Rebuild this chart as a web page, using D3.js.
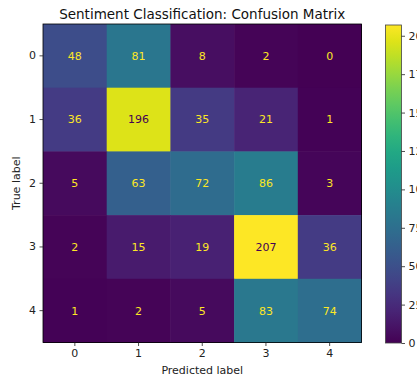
<!DOCTYPE html>
<html>
<head>
<meta charset="utf-8">
<script src="https://cdn.jsdelivr.net/npm/d3@7"></script>
<style>
  body { margin: 0; background: #fff; overflow: hidden; }
  text { font-family: "DejaVu Sans", sans-serif; }
</style>
</head>
<body>
<svg width="417" height="379"></svg>
<script>
var svg = d3.select("svg");

// data
var classes = ["0", "1", "2", "3", "4"];
var row0 = [48, 81, 8, 2, 0];
var row1 = [36, 196, 35, 21, 1];
var row2 = [5, 63, 72, 86, 3];
var row3 = [2, 15, 19, 207, 36];
var row4 = [1, 2, 5, 83, 74];
var matrix = [row0, row1, row2, row3, row4];
var cbarTicks = [0, 25, 50, 75, 100, 125, 150, 175, 200];

// "top" is taken by window.top, so use other names
var mLeft = 43, mTop = 24, size = 318.5;
var vmax = d3.max(matrix, function(r) { return d3.max(r); });
var vmin = 0;

var x = d3.scaleBand().domain(classes).range([mLeft, mLeft + size]);
var y = d3.scaleBand().domain(classes).range([mTop, mTop + size]);
var color = d3.scaleSequential(d3.interpolateViridis).domain([vmin, vmax]);

var cells = [];
matrix.forEach(function(row, i) {
  row.forEach(function(v, j) {
    cells.push({ t: classes[i], p: classes[j], v: v });
  });
});

// heatmap cells
svg.append("g")
  .selectAll("rect")
  .data(cells)
  .enter()
  .append("rect")
  .attr("x", function(d) { return x(d.p); })
  .attr("y", function(d) { return y(d.t); })
  .attr("width", x.bandwidth() + 0.5)
  .attr("height", y.bandwidth() + 0.5)
  .attr("fill", function(d) { return color(d.v); });

// cell values
var thresh = (vmax + vmin) / 2;
svg.append("g")
  .selectAll("text")
  .data(cells)
  .enter()
  .append("text")
  .attr("x", function(d) { return x(d.p) + x.bandwidth() / 2; })
  .attr("y", function(d) { return y(d.t) + y.bandwidth() / 2; })
  .attr("dy", "0.35em")
  .attr("text-anchor", "middle")
  .attr("font-size", "11px")
  .attr("fill", function(d) { return d.v < thresh ? color(vmax) : color(vmin); })
  .text(function(d) { return d.v; });

// frame
svg.append("rect")
  .attr("x", mLeft).attr("y", mTop)
  .attr("width", size).attr("height", size)
  .attr("fill", "none").attr("stroke", "#000").attr("stroke-width", 0.8);

// axes
var xAxis = svg.append("g")
  .attr("transform", "translate(0," + (mTop + size) + ")")
  .call(d3.axisBottom(x).tickSize(3.5).tickPadding(3.5));
var yAxis = svg.append("g")
  .attr("transform", "translate(" + mLeft + ",0)")
  .call(d3.axisLeft(y).tickSize(3.5).tickPadding(3.5));
[xAxis, yAxis].forEach(function(a) {
  a.select(".domain").remove();
  a.selectAll("text").attr("font-size", "11px").attr("fill", "#222")
    .style("font-family", "DejaVu Sans, sans-serif");
  a.selectAll("line").attr("stroke", "#222").attr("stroke-width", 0.8);
});

// labels
svg.append("text")
  .attr("x", mLeft + size / 2).attr("y", 374)
  .attr("text-anchor", "middle").attr("font-size", "11px").attr("fill", "#222")
  .text("Predicted label");
svg.append("text")
  .attr("transform", "translate(20," + (mTop + size / 2) + ") rotate(-90)")
  .attr("text-anchor", "middle").attr("font-size", "11px").attr("fill", "#222")
  .text("True label");
svg.append("text")
  .attr("x", mLeft + size / 2).attr("y", 18.5)
  .attr("text-anchor", "middle").attr("font-size", "13.5px").attr("fill", "#111")
  .text("Sentiment Classification: Confusion Matrix");

// colorbar
var cbX = 385.5, cbW = 16, cbTop = 25, cbBot = 343;
var cy = d3.scaleLinear().domain([vmin, vmax]).range([cbBot, cbTop]);
var defs = svg.append("defs");
var grad = defs.append("linearGradient")
  .attr("id", "cbar").attr("x1", "0").attr("y1", "1").attr("x2", "0").attr("y2", "0");
d3.range(0, 1.0001, 0.05).forEach(function(t) {
  grad.append("stop").attr("offset", t).attr("stop-color", color(vmin + t * (vmax - vmin)));
});
svg.append("rect")
  .attr("x", cbX).attr("y", cbTop).attr("width", cbW).attr("height", cbBot - cbTop)
  .attr("fill", "url(#cbar)").attr("stroke", "#444").attr("stroke-width", 0.8);
var cAxis = svg.append("g")
  .attr("transform", "translate(" + (cbX + cbW) + ",0)")
  .call(d3.axisRight(cy).tickValues(cbarTicks).tickSize(3.5).tickPadding(3.5));
cAxis.select(".domain").remove();
cAxis.selectAll("text").attr("font-size", "11px").attr("fill", "#222")
  .style("font-family", "DejaVu Sans, sans-serif");
cAxis.selectAll("line").attr("stroke", "#222").attr("stroke-width", 0.8);
</script>
</body>
</html>
